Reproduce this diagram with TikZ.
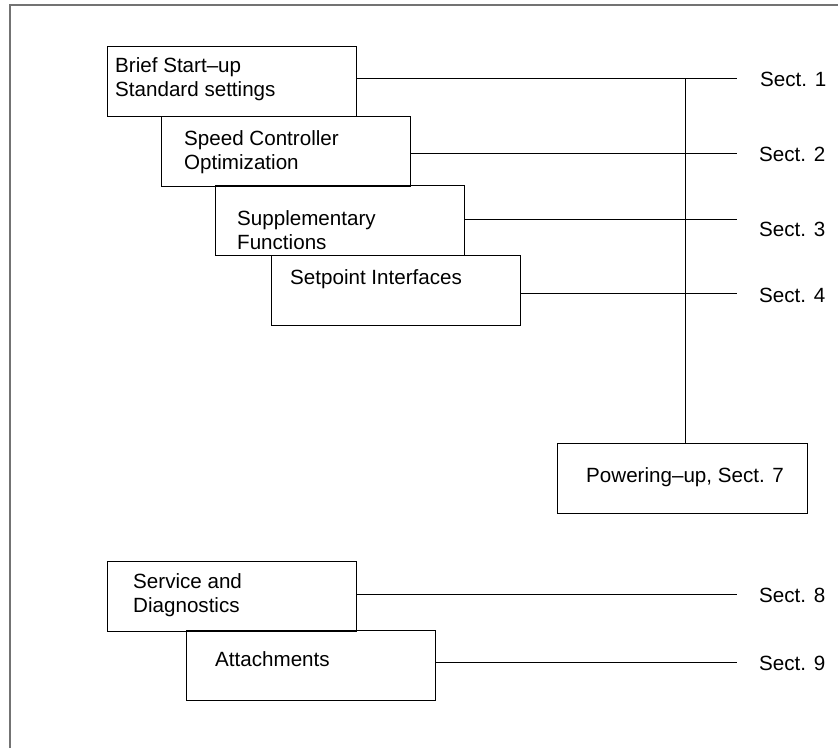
\documentclass[tikz,border=0pt]{standalone}
\usepackage{fontspec}
\setmainfont{Liberation Sans}
\begin{document}
\begin{tikzpicture}[x=1pt,y=-1pt,
  box/.style={draw=black,line width=1.1pt,minimum width=249pt,minimum height=70pt,inner sep=0pt,anchor=north west},
  txt/.style={anchor=base west,inner sep=0pt,font=\fontsize{20.6}{24}\selectfont},
  conn/.style={draw=black,line width=1pt},
  frame/.style={draw=black!55,line width=2pt}]
\useasboundingbox (0,0) rectangle (838,748);
\draw[frame] (10,748) -- (10,5) -- (838,5);
% boxes
\node[box] (b1) at (107,46) {};
\node[box] (b2) at (161,116) {};
\node[box] (b3) at (215,185) {};
\node[box] (b4) at (271,255) {};
\node[box,minimum width=250pt] (b7) at (557,443) {};
\node[box] (b8) at (107,561) {};
\node[box] (b9) at (186,630) {};
% box texts
\node[txt] (t1) at (115,72) {\begin{tabular}[t]{@{}l@{}}Brief Start--up\\Standard settings\end{tabular}};
\node[txt] (t2) at (184,145) {\begin{tabular}[t]{@{}l@{}}Speed Controller\\Optimization\end{tabular}};
\node[txt] (t3) at (237,225) {\begin{tabular}[t]{@{}l@{}}Supplementary\\Functions\end{tabular}};
\node[txt] (t4) at (290,284) {Setpoint Interfaces};
\node[txt] (t7) at (586,482) {Powering--up, Sect. 7};
\node[txt] (t8) at (133,588) {\begin{tabular}[t]{@{}l@{}}Service and\\Diagnostics\end{tabular}};
\node[txt] (t9) at (215,666) {Attachments};
% line ends and labels
\coordinate (e1) at (737,78);
\coordinate (e2) at (737,153);
\coordinate (e3) at (737,219);
\coordinate (e4) at (737,293);
\coordinate (e8) at (737,594);
\coordinate (e9) at (737,662);
\node[txt] (s1) at (760,86) {Sect. 1};
\node[txt] (s2) at (759,161) {Sect. 2};
\node[txt] (s3) at (759,236) {Sect. 3};
\node[txt] (s4) at (759,302) {Sect. 4};
\node[txt] (s8) at (759,602) {Sect. 8};
\node[txt] (s9) at (759,670) {Sect. 9};
% connectors
\draw[conn] (b1.east |- e1) -- (e1);
\draw[conn] (b2.east |- e2) -- (e2);
\draw[conn] (b3.east |- e3) -- (e3);
\draw[conn] (b4.east |- e4) -- (e4);
\draw[conn] (b8.east |- e8) -- (e8);
\draw[conn] (b9.east |- e9) -- (e9);
\coordinate (v) at (685,78);
\draw[conn] (v) -- (v |- b7.north);
\end{tikzpicture}
\end{document}
